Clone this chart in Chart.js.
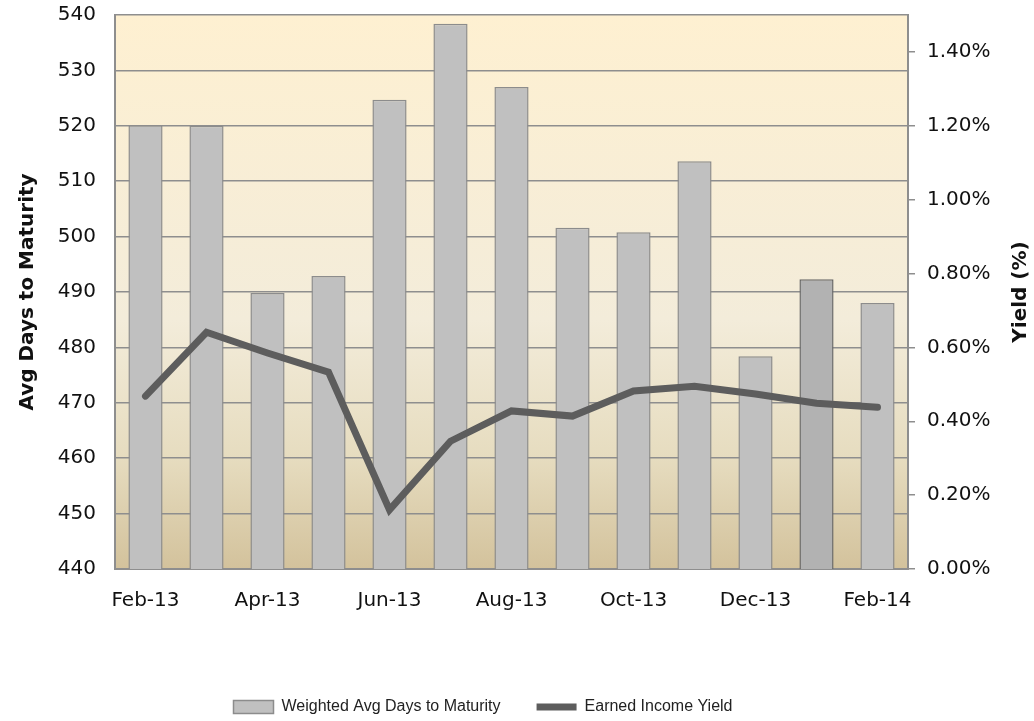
<!DOCTYPE html>
<html>
<head>
<meta charset="utf-8">
<script src="https://cdn.jsdelivr.net/npm/chart.js@4"></script>
<style>
  body { margin: 0; background: #fff; }
  #wrap { width: 1034px; height: 721px; }
</style>
</head>
<body>
<div id="wrap"><canvas id="chart"></canvas></div>
<script>
const months = ["Feb-13", "Mar-13", "Apr-13", "May-13", "Jun-13", "Jul-13", "Aug-13",
  "Sep-13", "Oct-13", "Nov-13", "Dec-13", "Jan-14", "Feb-14"];
const daysToMaturity = [520.1, 520.0, 489.8, 492.9, 524.7, 538.4, 527.0, 501.6, 500.8, 513.6, 478.4, 492.3, 488.0];
const incomeYield = [0.468, 0.641, 0.585, 0.533, 0.160, 0.346, 0.428, 0.414, 0.482, 0.495, 0.474, 0.449, 0.438];
const leftTicks = [440, 450, 460, 470, 480, 490, 500, 510, 520, 530, 540];
const rightTicks = [0, 0.2, 0.4, 0.6, 0.8, 1.0, 1.2, 1.4];

const highlightIndex = 11; // the darker bar

// cream -> tan background behind the plot
const plotBackground = {
  id: "plotBackground",
  beforeDraw(chart) {
    const a = chart.chartArea;
    const ctx = chart.ctx;
    const g = ctx.createLinearGradient(0, a.top, 0, a.bottom);
    g.addColorStop(0, "#fef0d1");
    g.addColorStop(0.55, "#f3ecda");
    g.addColorStop(0.8, "#e6dcbf");
    g.addColorStop(1, "#d3c29c");
    ctx.save();
    ctx.fillStyle = g;
    ctx.fillRect(a.left, a.top, a.right - a.left, a.bottom - a.top);
    ctx.restore();
  }
};

// legend: fixed height and nudged left like the original
const legendTweak = {
  id: "legendTweak",
  beforeInit(chart) {
    const fit = chart.legend.fit;
    chart.legend.fit = function () { fit.call(this); this.height = 58; };
  },
  afterLayout(chart) { chart.legend.right -= 68; }
};

// right axis title reads bottom-to-top
const rightTitle = {
  id: "rightTitle",
  afterDraw(chart) {
    const a = chart.chartArea;
    const ctx = chart.ctx;
    ctx.save();
    ctx.translate(1021, (a.top + a.bottom) / 2);
    ctx.rotate(-Math.PI / 2);
    ctx.font = "bold 20px 'DejaVu Sans'";
    ctx.fillStyle = "#111";
    ctx.textAlign = "center";
    ctx.textBaseline = "middle";
    ctx.fillText("Yield (%)", 0, 0);
    ctx.restore();
  }
};

const gridGray = "#8e8e8e";
const tickFont = { family: "DejaVu Sans", size: 20 };
const titleFont = { family: "DejaVu Sans", size: 20, weight: "bold" };

new Chart(document.getElementById("chart"), {
  data: {
    labels: months,
    datasets: [
      {
        type: "line",
        label: "Earned Income Yield",
        data: incomeYield,
        yAxisID: "y2",
        borderColor: "#5d5d5d",
        backgroundColor: "#5d5d5d",
        borderWidth: 7,
        borderCapStyle: "round",
        borderJoinStyle: "miter",
        pointRadius: 0,
        pointStyle: "line",
        tension: 0,
        order: 0
      },
      {
        type: "bar",
        label: "Weighted Avg Days to Maturity",
        data: daysToMaturity,
        yAxisID: "y",
        backgroundColor: ctx => ctx.dataIndex === highlightIndex ? "#b2b2b2" : "#c0c0c0",
        borderColor: ctx => ctx.dataIndex === highlightIndex ? "#6a6a6a" : "#8c8c8c",
        borderWidth: 1.5,
        borderSkipped: false,
        barPercentage: 0.56,
        categoryPercentage: 1,
        pointStyle: "rect",
        order: 1
      }
    ]
  },
  options: {
    responsive: true,
    maintainAspectRatio: false,
    animation: false,
    layout: { padding: { top: 15, right: 0, left: 0, bottom: 0 } },
    plugins: {
      tooltip: { enabled: false },
      legend: {
        position: "bottom",
        reverse: true,
        labels: {
          usePointStyle: true,
          pointStyleWidth: 40,
          boxWidth: 40,
          boxHeight: 13,
          padding: 36,
          color: "#222",
          font: { family: "Liberation Sans", size: 16 }
        }
      }
    },
    scales: {
      x: {
        grid: { display: false, drawTicks: false },
        border: { display: true, color: gridGray, width: 2 },
        ticks: {
          color: "#111",
          font: tickFont,
          padding: 20,
          maxRotation: 0,
          autoSkip: false,
          callback: (v, i) => i % 2 === 0 ? months[i] : ""
        },
        afterFit: s => { s.height = 94; }
      },
      y: {
        position: "left",
        min: leftTicks[0],
        max: leftTicks[leftTicks.length - 1],
        afterBuildTicks: s => { s.ticks = leftTicks.map(v => ({ value: v })); },
        grid: { color: gridGray, lineWidth: 1.5, drawTicks: false },
        border: { display: true, color: gridGray, width: 2 },
        ticks: { color: "#111", font: tickFont, padding: 19 },
        title: { display: true, text: "Avg Days to Maturity", color: "#111", font: titleFont, padding: { top: 16, bottom: 0 } },
        afterFit: s => { s.width = 115; s.paddingTop = 0; s.paddingBottom = 0; }
      },
      y2: {
        position: "right",
        min: 0,
        max: 1.5,
        afterBuildTicks: s => { s.ticks = rightTicks.map(v => ({ value: v })); },
        grid: { drawOnChartArea: false, drawTicks: true, tickLength: 7, color: gridGray, lineWidth: 1.5 },
        border: { display: true, color: gridGray, width: 2 },
        ticks: { color: "#111", font: tickFont, padding: 12, callback: v => v.toFixed(2) + "%" },
        afterFit: s => { s.width = 126; s.paddingTop = 0; s.paddingBottom = 0; }
      }
    }
  },
  plugins: [plotBackground, legendTweak, rightTitle]
});
</script>
</body>
</html>
